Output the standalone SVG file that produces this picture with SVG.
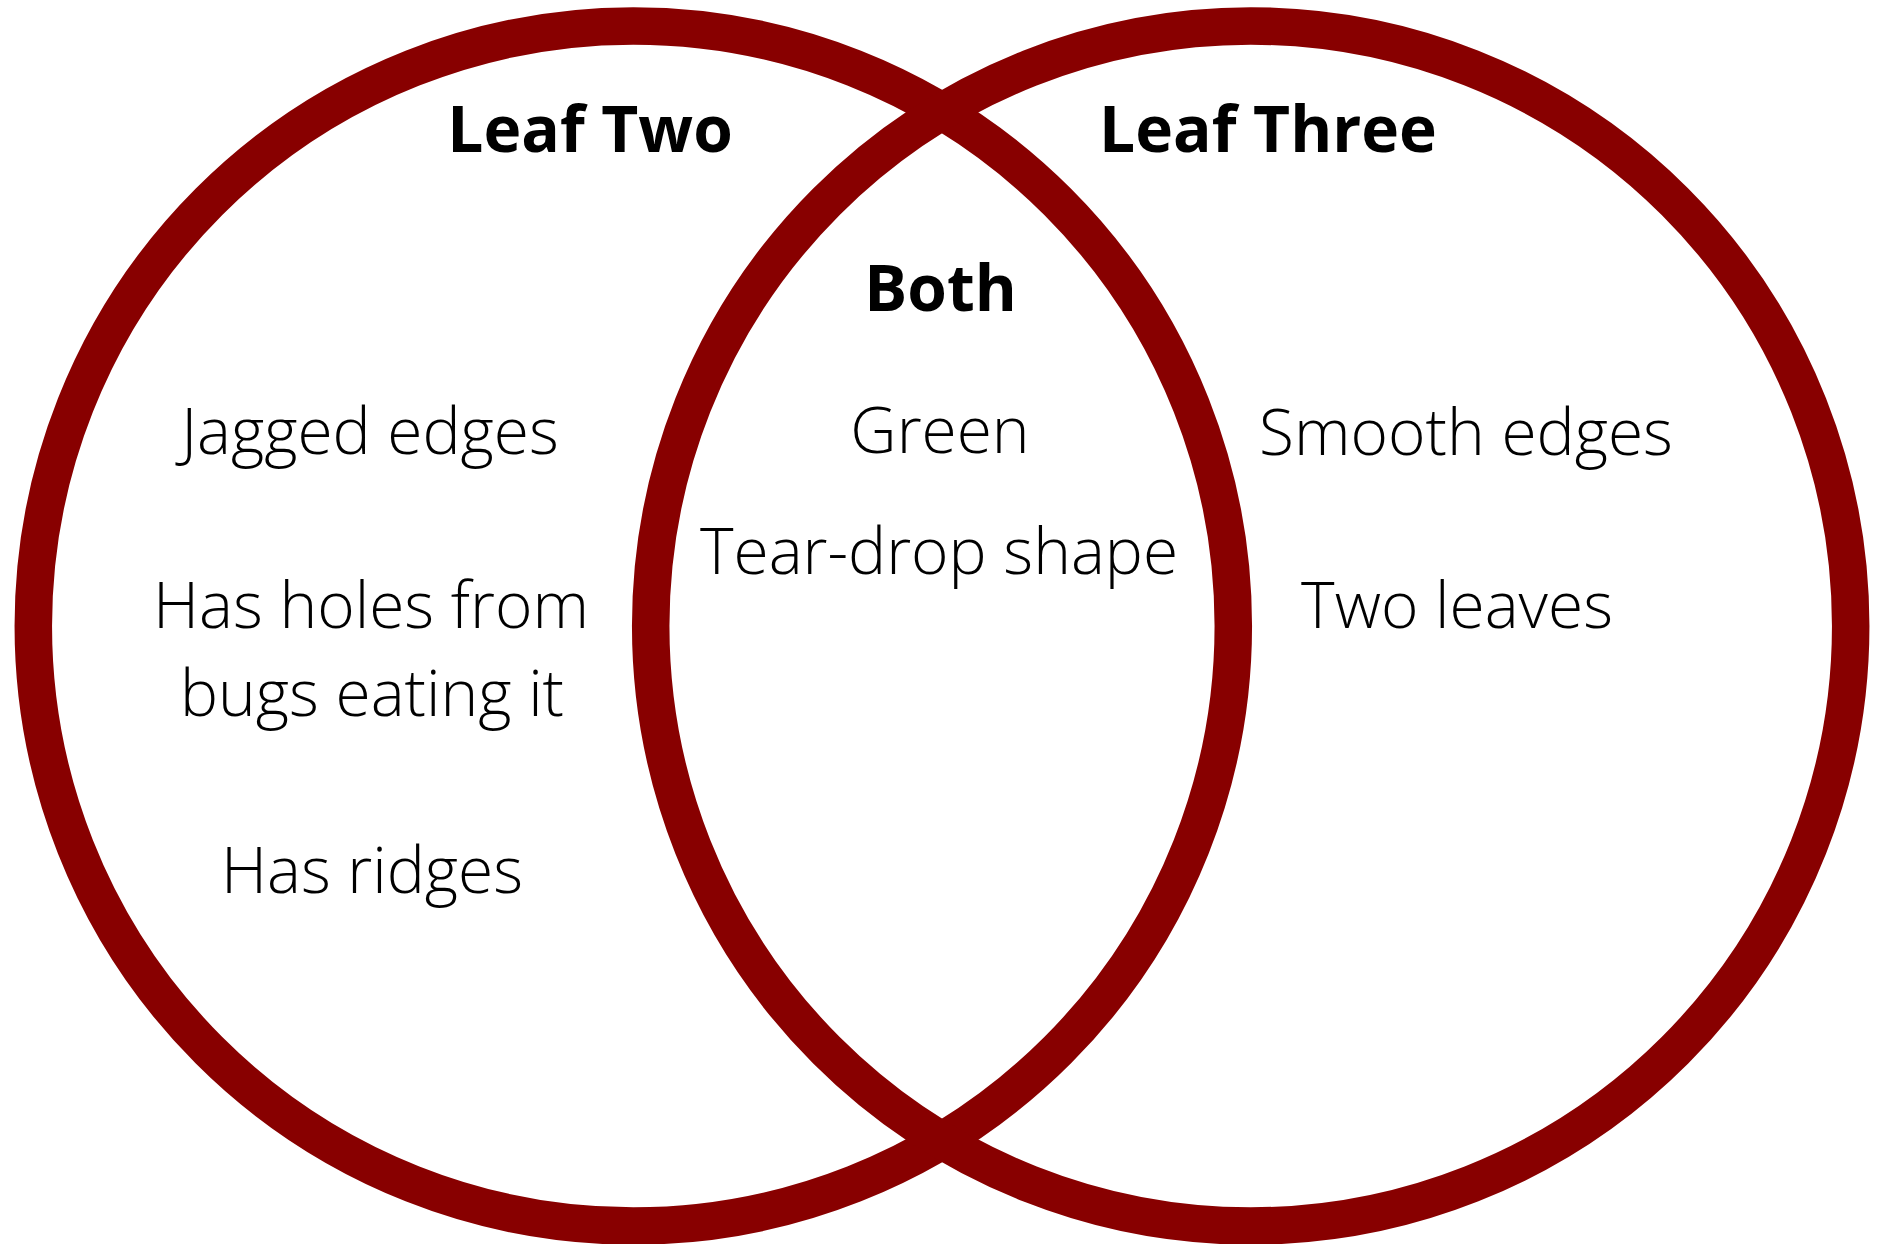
<svg xmlns="http://www.w3.org/2000/svg" width="1879" height="1244" viewBox="0 0 1879 1244">
<style>
.ring{fill:none;stroke:#880000;stroke-width:37.5}
.title{font-family:"Open Sans","Liberation Sans",sans-serif;font-weight:700;font-size:64px;fill:#000;text-anchor:middle}
.body{font-family:"Open Sans","Liberation Sans",sans-serif;font-weight:300;font-size:64px;fill:#000;text-anchor:middle}
</style>
<rect width="1879" height="1244" fill="#fff"/>
<g id="leaf-two">
<circle class="ring" cx="633.3" cy="626" r="600"/>
<text class="title" x="590" y="152">Leaf Two</text>
<text class="body" x="370" y="454">Jagged edges</text>
<text class="body" x="371" y="628">Has holes from</text>
<text class="body" x="372" y="716">bugs eating it</text>
<text class="body" x="372" y="893">Has ridges</text>
</g>
<g id="leaf-three">
<circle class="ring" cx="1250.7" cy="626" r="600"/>
<text class="title" x="1268" y="152">Leaf Three</text>
<text class="body" x="1466" y="455">Smooth edges</text>
<text class="body" x="1457" y="628">Two leaves</text>
</g>
<g id="both">
<text class="title" x="940.5" y="311">Both</text>
<text class="body" x="940" y="453">Green</text>
<text class="body" x="939" y="574">Tear-drop shape</text>
</g>
<g id="connectors"></g>
</svg>
